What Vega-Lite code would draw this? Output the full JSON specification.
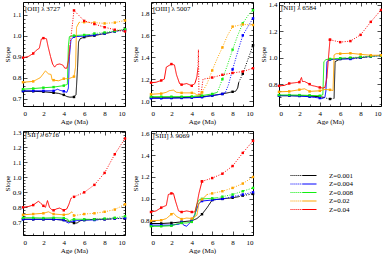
{
"$schema":"https://vega.github.io/schema/vega-lite/v6.json",
"padding":{"left":2,"top":0,"right":0,"bottom":0},
"config":{
 "font":"Liberation Serif",
 "view":{"stroke":"black","strokeWidth":1},
 "title":{"anchor":"start","frame":"group","offset":-10,"dx":2,"fontSize":7,"font":"Liberation Serif","fontWeight":"normal","color":"black"},
 "axis":{"grid":false,"domain":false,"labelFont":"Liberation Serif","labelFontSize":7,"labelColor":"black","titleFont":"Liberation Serif","titleFontSize":7,"titleFontWeight":"normal","titleColor":"black","tickColor":"black","tickWidth":0.7},
 "legend":{"orient":"none","legendX":267,"legendY":170,"title":null,"symbolType":"M-1,0h0.08M-0.85,0h0.08M-0.7,0h0.08M-0.55,0h0.08M-0.4,0h0.08M-0.25,0h0.08M-0.1,0H1","symbolSize":676,"symbolStrokeWidth":1,"labelFont":"Liberation Serif","labelFontSize":7,"labelColor":"black","clipHeight":7,"rowPadding":0.5,"labelOffset":12}
},
"data":{"values":[
{"p":"OII","z":"0.001","g":1,"k":"s","a":0,"v":0.735},{"p":"OII","z":"0.001","g":1,"k":"s","a":1,"v":0.735},{"p":"OII","z":"0.001","g":1,"k":"s","a":2,"v":0.733},{"p":"OII","z":"0.001","g":1,"k":"s","a":3,"v":0.728},{"p":"OII","z":"0.001","g":1,"k":"s","a":3.5,"v":0.725},{"p":"OII","z":"0.001","g":1,"k":"s","a":4,"v":0.718},{"p":"OII","z":"0.001","g":1,"k":"s","a":4.3,"v":0.71},{"p":"OII","z":"0.001","g":1,"k":"s","a":4.6,"v":0.707},{"p":"OII","z":"0.001","g":1,"k":"s","a":5,"v":0.708},{"p":"OII","z":"0.001","g":1,"k":"s","a":5.2,"v":0.72},{"p":"OII","z":"0.001","g":1,"k":"s","a":5.35,"v":0.85},{"p":"OII","z":"0.001","g":1,"k":"s","a":5.45,"v":0.97},{"p":"OII","z":"0.001","g":1,"k":"s","a":5.6,"v":0.985},{"p":"OII","z":"0.001","g":1,"k":"s","a":6,"v":0.993},{"p":"OII","z":"0.001","g":1,"k":"s","a":7,"v":1.0},{"p":"OII","z":"0.001","g":1,"k":"s","a":8,"v":1.01},{"p":"OII","z":"0.001","g":1,"k":"s","a":8.6,"v":1.015},
{"p":"OII","z":"0.001","g":2,"k":"d","a":8.6,"v":1.015},{"p":"OII","z":"0.001","g":2,"k":"d","a":9,"v":1.02},{"p":"OII","z":"0.001","g":2,"k":"d","a":10,"v":1.03},
{"p":"OII","z":"0.004","g":1,"k":"s","a":0,"v":0.737},{"p":"OII","z":"0.004","g":1,"k":"s","a":1,"v":0.737},{"p":"OII","z":"0.004","g":1,"k":"s","a":2,"v":0.737},{"p":"OII","z":"0.004","g":1,"k":"s","a":3,"v":0.737},{"p":"OII","z":"0.004","g":1,"k":"s","a":3.4,"v":0.745},{"p":"OII","z":"0.004","g":1,"k":"s","a":3.6,"v":0.74},{"p":"OII","z":"0.004","g":1,"k":"s","a":4,"v":0.735},{"p":"OII","z":"0.004","g":1,"k":"s","a":4.3,"v":0.73},{"p":"OII","z":"0.004","g":1,"k":"s","a":4.45,"v":0.75},{"p":"OII","z":"0.004","g":1,"k":"s","a":4.55,"v":0.9},{"p":"OII","z":"0.004","g":1,"k":"s","a":4.7,"v":0.98},{"p":"OII","z":"0.004","g":1,"k":"s","a":5,"v":0.995},{"p":"OII","z":"0.004","g":1,"k":"s","a":6,"v":0.998},{"p":"OII","z":"0.004","g":1,"k":"s","a":7,"v":1.003},{"p":"OII","z":"0.004","g":1,"k":"s","a":7.3,"v":1.006},
{"p":"OII","z":"0.004","g":2,"k":"d","a":7.3,"v":1.006},{"p":"OII","z":"0.004","g":2,"k":"d","a":8,"v":1.01},{"p":"OII","z":"0.004","g":2,"k":"d","a":9,"v":1.02},{"p":"OII","z":"0.004","g":2,"k":"d","a":10,"v":1.025},
{"p":"OII","z":"0.008","g":1,"k":"s","a":0,"v":0.745},{"p":"OII","z":"0.008","g":1,"k":"s","a":1,"v":0.748},{"p":"OII","z":"0.008","g":1,"k":"s","a":2,"v":0.752},{"p":"OII","z":"0.008","g":1,"k":"s","a":3,"v":0.755},{"p":"OII","z":"0.008","g":1,"k":"s","a":4,"v":0.762},{"p":"OII","z":"0.008","g":1,"k":"s","a":4.35,"v":0.768},{"p":"OII","z":"0.008","g":1,"k":"s","a":4.45,"v":0.95},{"p":"OII","z":"0.008","g":1,"k":"s","a":4.55,"v":0.995},{"p":"OII","z":"0.008","g":1,"k":"s","a":5,"v":1.0},{"p":"OII","z":"0.008","g":1,"k":"s","a":6,"v":1.003},{"p":"OII","z":"0.008","g":1,"k":"s","a":6.5,"v":1.005},
{"p":"OII","z":"0.008","g":2,"k":"d","a":6.5,"v":1.005},{"p":"OII","z":"0.008","g":2,"k":"d","a":7,"v":1.01},{"p":"OII","z":"0.008","g":2,"k":"d","a":8,"v":1.015},{"p":"OII","z":"0.008","g":2,"k":"d","a":9,"v":1.022},{"p":"OII","z":"0.008","g":2,"k":"d","a":10,"v":1.03},
{"p":"OII","z":"0.02","g":1,"k":"s","a":0,"v":0.778},{"p":"OII","z":"0.02","g":1,"k":"s","a":1,"v":0.782},{"p":"OII","z":"0.02","g":1,"k":"s","a":1.7,"v":0.8},{"p":"OII","z":"0.02","g":1,"k":"s","a":2.2,"v":0.832},{"p":"OII","z":"0.02","g":1,"k":"s","a":2.5,"v":0.818},{"p":"OII","z":"0.02","g":1,"k":"s","a":2.75,"v":0.815},{"p":"OII","z":"0.02","g":1,"k":"s","a":2.85,"v":0.79},{"p":"OII","z":"0.02","g":1,"k":"s","a":3,"v":0.788},{"p":"OII","z":"0.02","g":1,"k":"s","a":3.5,"v":0.785},{"p":"OII","z":"0.02","g":1,"k":"s","a":4,"v":0.795},{"p":"OII","z":"0.02","g":1,"k":"s","a":4.5,"v":0.795},{"p":"OII","z":"0.02","g":1,"k":"s","a":5,"v":0.805},{"p":"OII","z":"0.02","g":1,"k":"s","a":5.15,"v":0.85},{"p":"OII","z":"0.02","g":1,"k":"s","a":5.25,"v":1.04},{"p":"OII","z":"0.02","g":1,"k":"s","a":5.5,"v":1.063},
{"p":"OII","z":"0.02","g":2,"k":"d","a":5.5,"v":1.063},{"p":"OII","z":"0.02","g":2,"k":"d","a":6,"v":1.064},{"p":"OII","z":"0.02","g":2,"k":"d","a":7,"v":1.062},{"p":"OII","z":"0.02","g":2,"k":"d","a":8,"v":1.058},{"p":"OII","z":"0.02","g":2,"k":"d","a":9,"v":1.062},{"p":"OII","z":"0.02","g":2,"k":"d","a":10,"v":1.072},
{"p":"OII","z":"0.04","g":1,"k":"s","a":0,"v":0.895},{"p":"OII","z":"0.04","g":1,"k":"s","a":0.5,"v":0.9},{"p":"OII","z":"0.04","g":1,"k":"s","a":1,"v":0.915},{"p":"OII","z":"0.04","g":1,"k":"s","a":1.3,"v":0.93},{"p":"OII","z":"0.04","g":1,"k":"s","a":1.6,"v":0.94},{"p":"OII","z":"0.04","g":1,"k":"s","a":1.8,"v":0.984},{"p":"OII","z":"0.04","g":1,"k":"s","a":2,"v":0.988},{"p":"OII","z":"0.04","g":1,"k":"s","a":2.3,"v":0.985},{"p":"OII","z":"0.04","g":1,"k":"s","a":2.45,"v":0.95},{"p":"OII","z":"0.04","g":1,"k":"s","a":2.7,"v":0.9},{"p":"OII","z":"0.04","g":1,"k":"s","a":2.9,"v":0.865},{"p":"OII","z":"0.04","g":1,"k":"s","a":3.1,"v":0.85},{"p":"OII","z":"0.04","g":1,"k":"s","a":3.3,"v":0.862},{"p":"OII","z":"0.04","g":1,"k":"s","a":3.6,"v":0.865},{"p":"OII","z":"0.04","g":1,"k":"s","a":3.9,"v":0.86},{"p":"OII","z":"0.04","g":1,"k":"s","a":4.1,"v":0.845},{"p":"OII","z":"0.04","g":1,"k":"s","a":4.3,"v":0.845},{"p":"OII","z":"0.04","g":1,"k":"s","a":4.45,"v":0.88},{"p":"OII","z":"0.04","g":1,"k":"s","a":4.6,"v":0.95},
{"p":"OII","z":"0.04","g":2,"k":"d","a":4.6,"v":0.95},{"p":"OII","z":"0.04","g":2,"k":"d","a":5,"v":1.12},{"p":"OII","z":"0.04","g":2,"k":"d","a":6,"v":1.07},{"p":"OII","z":"0.04","g":2,"k":"d","a":7,"v":1.055},{"p":"OII","z":"0.04","g":2,"k":"d","a":8,"v":1.04},{"p":"OII","z":"0.04","g":2,"k":"d","a":9,"v":1.028},{"p":"OII","z":"0.04","g":2,"k":"d","a":10,"v":1.02},

{"p":"OIII","z":"0.001","g":1,"k":"s","a":0,"v":1.03},{"p":"OIII","z":"0.001","g":1,"k":"s","a":1,"v":1.03},{"p":"OIII","z":"0.001","g":1,"k":"s","a":2,"v":1.03},{"p":"OIII","z":"0.001","g":1,"k":"s","a":3,"v":1.032},{"p":"OIII","z":"0.001","g":1,"k":"s","a":4,"v":1.035},{"p":"OIII","z":"0.001","g":1,"k":"s","a":5,"v":1.04},{"p":"OIII","z":"0.001","g":1,"k":"s","a":6,"v":1.05},{"p":"OIII","z":"0.001","g":1,"k":"s","a":7,"v":1.065},{"p":"OIII","z":"0.001","g":1,"k":"s","a":8,"v":1.085},{"p":"OIII","z":"0.001","g":1,"k":"s","a":8.3,"v":1.09},{"p":"OIII","z":"0.001","g":1,"k":"s","a":8.5,"v":1.12},{"p":"OIII","z":"0.001","g":1,"k":"s","a":8.6,"v":1.17},
{"p":"OIII","z":"0.001","g":2,"k":"d","a":8.6,"v":1.17},{"p":"OIII","z":"0.001","g":2,"k":"d","a":9,"v":1.25},{"p":"OIII","z":"0.001","g":2,"k":"d","a":9.5,"v":1.38},{"p":"OIII","z":"0.001","g":2,"k":"d","a":10,"v":1.51},
{"p":"OIII","z":"0.004","g":1,"k":"s","a":0,"v":1.025},{"p":"OIII","z":"0.004","g":1,"k":"s","a":1,"v":1.025},{"p":"OIII","z":"0.004","g":1,"k":"s","a":2,"v":1.027},{"p":"OIII","z":"0.004","g":1,"k":"s","a":3,"v":1.028},{"p":"OIII","z":"0.004","g":1,"k":"s","a":4,"v":1.03},{"p":"OIII","z":"0.004","g":1,"k":"s","a":5,"v":1.035},{"p":"OIII","z":"0.004","g":1,"k":"s","a":6,"v":1.05},{"p":"OIII","z":"0.004","g":1,"k":"s","a":7,"v":1.065},{"p":"OIII","z":"0.004","g":1,"k":"s","a":7.3,"v":1.08},
{"p":"OIII","z":"0.004","g":2,"k":"d","a":7.3,"v":1.08},{"p":"OIII","z":"0.004","g":2,"k":"d","a":7.6,"v":1.15},{"p":"OIII","z":"0.004","g":2,"k":"d","a":8,"v":1.29},{"p":"OIII","z":"0.004","g":2,"k":"d","a":8.5,"v":1.45},{"p":"OIII","z":"0.004","g":2,"k":"d","a":9,"v":1.6},{"p":"OIII","z":"0.004","g":2,"k":"d","a":9.5,"v":1.68},{"p":"OIII","z":"0.004","g":2,"k":"d","a":10,"v":1.755},
{"p":"OIII","z":"0.008","g":1,"k":"s","a":0,"v":1.04},{"p":"OIII","z":"0.008","g":1,"k":"s","a":1,"v":1.04},{"p":"OIII","z":"0.008","g":1,"k":"s","a":2,"v":1.04},{"p":"OIII","z":"0.008","g":1,"k":"s","a":3,"v":1.04},{"p":"OIII","z":"0.008","g":1,"k":"s","a":4,"v":1.042},{"p":"OIII","z":"0.008","g":1,"k":"s","a":5,"v":1.05},{"p":"OIII","z":"0.008","g":1,"k":"s","a":6,"v":1.065},{"p":"OIII","z":"0.008","g":1,"k":"s","a":6.5,"v":1.08},
{"p":"OIII","z":"0.008","g":2,"k":"d","a":6.5,"v":1.08},{"p":"OIII","z":"0.008","g":2,"k":"d","a":7,"v":1.2},{"p":"OIII","z":"0.008","g":2,"k":"d","a":7.5,"v":1.33},{"p":"OIII","z":"0.008","g":2,"k":"d","a":8,"v":1.47},{"p":"OIII","z":"0.008","g":2,"k":"d","a":8.5,"v":1.6},{"p":"OIII","z":"0.008","g":2,"k":"d","a":9,"v":1.71},{"p":"OIII","z":"0.008","g":2,"k":"d","a":9.5,"v":1.78},{"p":"OIII","z":"0.008","g":2,"k":"d","a":10,"v":1.83},
{"p":"OIII","z":"0.02","g":1,"k":"s","a":0,"v":1.062},{"p":"OIII","z":"0.02","g":1,"k":"s","a":1,"v":1.068},{"p":"OIII","z":"0.02","g":1,"k":"s","a":1.5,"v":1.08},{"p":"OIII","z":"0.02","g":1,"k":"s","a":1.8,"v":1.095},{"p":"OIII","z":"0.02","g":1,"k":"s","a":2.2,"v":1.1},{"p":"OIII","z":"0.02","g":1,"k":"s","a":2.5,"v":1.08},{"p":"OIII","z":"0.02","g":1,"k":"s","a":3,"v":1.075},{"p":"OIII","z":"0.02","g":1,"k":"s","a":4,"v":1.075},{"p":"OIII","z":"0.02","g":1,"k":"s","a":4.3,"v":1.07},{"p":"OIII","z":"0.02","g":1,"k":"s","a":4.5,"v":1.055},{"p":"OIII","z":"0.02","g":1,"k":"s","a":4.8,"v":1.06},{"p":"OIII","z":"0.02","g":1,"k":"s","a":5,"v":1.08},
{"p":"OIII","z":"0.02","g":2,"k":"d","a":5,"v":1.08},{"p":"OIII","z":"0.02","g":2,"k":"d","a":5.5,"v":1.16},{"p":"OIII","z":"0.02","g":2,"k":"d","a":6,"v":1.28},{"p":"OIII","z":"0.02","g":2,"k":"d","a":6.5,"v":1.39},{"p":"OIII","z":"0.02","g":2,"k":"d","a":7,"v":1.49},{"p":"OIII","z":"0.02","g":2,"k":"d","a":7.5,"v":1.6},{"p":"OIII","z":"0.02","g":2,"k":"d","a":8,"v":1.68},{"p":"OIII","z":"0.02","g":2,"k":"d","a":9,"v":1.7},{"p":"OIII","z":"0.02","g":2,"k":"d","a":10,"v":1.695},
{"p":"OIII","z":"0.04","g":1,"k":"s","a":0,"v":1.168},{"p":"OIII","z":"0.04","g":1,"k":"s","a":0.5,"v":1.172},{"p":"OIII","z":"0.04","g":1,"k":"s","a":1,"v":1.188},{"p":"OIII","z":"0.04","g":1,"k":"s","a":1.3,"v":1.2},{"p":"OIII","z":"0.04","g":1,"k":"s","a":1.5,"v":1.31},{"p":"OIII","z":"0.04","g":1,"k":"s","a":2,"v":1.338},{"p":"OIII","z":"0.04","g":1,"k":"s","a":2.3,"v":1.33},{"p":"OIII","z":"0.04","g":1,"k":"s","a":2.5,"v":1.24},{"p":"OIII","z":"0.04","g":1,"k":"s","a":2.8,"v":1.16},{"p":"OIII","z":"0.04","g":1,"k":"s","a":3,"v":1.15},{"p":"OIII","z":"0.04","g":1,"k":"s","a":3.5,"v":1.16},{"p":"OIII","z":"0.04","g":1,"k":"s","a":4,"v":1.14},{"p":"OIII","z":"0.04","g":1,"k":"s","a":4.3,"v":1.16},{"p":"OIII","z":"0.04","g":1,"k":"s","a":4.5,"v":1.22},{"p":"OIII","z":"0.04","g":1,"k":"s","a":4.6,"v":1.3},
{"p":"OIII","z":"0.04","g":2,"k":"d","a":4.6,"v":1.3},{"p":"OIII","z":"0.04","g":2,"k":"d","a":4.65,"v":1.47},{"p":"OIII","z":"0.04","g":2,"k":"d","a":4.7,"v":1.06},{"p":"OIII","z":"0.04","g":2,"k":"d","a":4.9,"v":1.06},{"p":"OIII","z":"0.04","g":2,"k":"d","a":5.1,"v":1.2},{"p":"OIII","z":"0.04","g":2,"k":"d","a":6,"v":1.215},{"p":"OIII","z":"0.04","g":2,"k":"d","a":7,"v":1.24},{"p":"OIII","z":"0.04","g":2,"k":"d","a":8,"v":1.257},{"p":"OIII","z":"0.04","g":2,"k":"d","a":9,"v":1.27},{"p":"OIII","z":"0.04","g":2,"k":"d","a":10,"v":1.3},

{"p":"NII","z":"0.001","g":1,"k":"s","a":0,"v":0.713},{"p":"NII","z":"0.001","g":1,"k":"s","a":1,"v":0.713},{"p":"NII","z":"0.001","g":1,"k":"s","a":2,"v":0.712},{"p":"NII","z":"0.001","g":1,"k":"s","a":3,"v":0.71},{"p":"NII","z":"0.001","g":1,"k":"s","a":4,"v":0.705},{"p":"NII","z":"0.001","g":1,"k":"s","a":4.4,"v":0.7},
{"p":"NII","z":"0.001","g":2,"k":"d","a":4.4,"v":0.7},{"p":"NII","z":"0.001","g":2,"k":"d","a":4.8,"v":0.69},{"p":"NII","z":"0.001","g":2,"k":"d","a":5,"v":0.688},{"p":"NII","z":"0.001","g":2,"k":"d","a":5.4,"v":0.692},
{"p":"NII","z":"0.001","g":3,"k":"s","a":5.4,"v":0.692},{"p":"NII","z":"0.001","g":3,"k":"s","a":5.5,"v":0.97},{"p":"NII","z":"0.001","g":3,"k":"s","a":6,"v":0.99},{"p":"NII","z":"0.001","g":3,"k":"s","a":7,"v":0.995},{"p":"NII","z":"0.001","g":3,"k":"s","a":8,"v":1.0},{"p":"NII","z":"0.001","g":3,"k":"s","a":8.6,"v":1.005},
{"p":"NII","z":"0.001","g":4,"k":"d","a":8.6,"v":1.005},{"p":"NII","z":"0.001","g":4,"k":"d","a":9,"v":1.01},{"p":"NII","z":"0.001","g":4,"k":"d","a":10,"v":1.015},
{"p":"NII","z":"0.004","g":1,"k":"s","a":0,"v":0.713},{"p":"NII","z":"0.004","g":1,"k":"s","a":1,"v":0.713},{"p":"NII","z":"0.004","g":1,"k":"s","a":2,"v":0.71},{"p":"NII","z":"0.004","g":1,"k":"s","a":3,"v":0.705},{"p":"NII","z":"0.004","g":1,"k":"s","a":3.5,"v":0.7},{"p":"NII","z":"0.004","g":1,"k":"s","a":4,"v":0.695},{"p":"NII","z":"0.004","g":1,"k":"s","a":4.2,"v":0.69},{"p":"NII","z":"0.004","g":1,"k":"s","a":4.5,"v":0.7},{"p":"NII","z":"0.004","g":1,"k":"s","a":4.6,"v":0.75},{"p":"NII","z":"0.004","g":1,"k":"s","a":4.7,"v":0.97},{"p":"NII","z":"0.004","g":1,"k":"s","a":5,"v":0.985},{"p":"NII","z":"0.004","g":1,"k":"s","a":6,"v":0.99},{"p":"NII","z":"0.004","g":1,"k":"s","a":7,"v":0.99},{"p":"NII","z":"0.004","g":1,"k":"s","a":7.3,"v":0.992},
{"p":"NII","z":"0.004","g":2,"k":"d","a":7.3,"v":0.992},{"p":"NII","z":"0.004","g":2,"k":"d","a":8,"v":1.0},{"p":"NII","z":"0.004","g":2,"k":"d","a":9,"v":1.008},{"p":"NII","z":"0.004","g":2,"k":"d","a":10,"v":1.015},
{"p":"NII","z":"0.008","g":1,"k":"s","a":0,"v":0.718},{"p":"NII","z":"0.008","g":1,"k":"s","a":1,"v":0.718},{"p":"NII","z":"0.008","g":1,"k":"s","a":2,"v":0.717},{"p":"NII","z":"0.008","g":1,"k":"s","a":3,"v":0.715},{"p":"NII","z":"0.008","g":1,"k":"s","a":4,"v":0.712},{"p":"NII","z":"0.008","g":1,"k":"s","a":4.3,"v":0.72},{"p":"NII","z":"0.008","g":1,"k":"s","a":4.4,"v":0.97},{"p":"NII","z":"0.008","g":1,"k":"s","a":4.6,"v":0.985},{"p":"NII","z":"0.008","g":1,"k":"s","a":5,"v":0.99},{"p":"NII","z":"0.008","g":1,"k":"s","a":6,"v":0.995},{"p":"NII","z":"0.008","g":1,"k":"s","a":6.5,"v":0.998},
{"p":"NII","z":"0.008","g":2,"k":"d","a":6.5,"v":0.998},{"p":"NII","z":"0.008","g":2,"k":"d","a":7,"v":1.0},{"p":"NII","z":"0.008","g":2,"k":"d","a":8,"v":1.005},{"p":"NII","z":"0.008","g":2,"k":"d","a":9,"v":1.01},{"p":"NII","z":"0.008","g":2,"k":"d","a":10,"v":1.015},
{"p":"NII","z":"0.02","g":1,"k":"s","a":0,"v":0.742},{"p":"NII","z":"0.02","g":1,"k":"s","a":1,"v":0.745},{"p":"NII","z":"0.02","g":1,"k":"s","a":2,"v":0.758},{"p":"NII","z":"0.02","g":1,"k":"s","a":2.5,"v":0.765},{"p":"NII","z":"0.02","g":1,"k":"s","a":3,"v":0.745},{"p":"NII","z":"0.02","g":1,"k":"s","a":4,"v":0.75},{"p":"NII","z":"0.02","g":1,"k":"s","a":4.5,"v":0.76},{"p":"NII","z":"0.02","g":1,"k":"s","a":5,"v":0.757},{"p":"NII","z":"0.02","g":1,"k":"s","a":5.3,"v":0.752},{"p":"NII","z":"0.02","g":1,"k":"s","a":5.4,"v":1.02},{"p":"NII","z":"0.02","g":1,"k":"s","a":5.6,"v":1.03},{"p":"NII","z":"0.02","g":1,"k":"s","a":6,"v":1.03},{"p":"NII","z":"0.02","g":1,"k":"s","a":7,"v":1.033},{"p":"NII","z":"0.02","g":1,"k":"s","a":8,"v":1.025},{"p":"NII","z":"0.02","g":1,"k":"s","a":9,"v":1.018},{"p":"NII","z":"0.02","g":1,"k":"s","a":10,"v":1.018},
{"p":"NII","z":"0.04","g":1,"k":"s","a":0,"v":0.787},{"p":"NII","z":"0.04","g":1,"k":"s","a":0.5,"v":0.79},{"p":"NII","z":"0.04","g":1,"k":"s","a":1,"v":0.805},{"p":"NII","z":"0.04","g":1,"k":"s","a":1.5,"v":0.81},{"p":"NII","z":"0.04","g":1,"k":"s","a":2,"v":0.815},{"p":"NII","z":"0.04","g":1,"k":"s","a":2.2,"v":0.85},{"p":"NII","z":"0.04","g":1,"k":"s","a":2.3,"v":0.82},{"p":"NII","z":"0.04","g":1,"k":"s","a":2.5,"v":0.82},{"p":"NII","z":"0.04","g":1,"k":"s","a":3,"v":0.8},{"p":"NII","z":"0.04","g":1,"k":"s","a":3.2,"v":0.79},{"p":"NII","z":"0.04","g":1,"k":"s","a":3.5,"v":0.785},{"p":"NII","z":"0.04","g":1,"k":"s","a":4,"v":0.775},{"p":"NII","z":"0.04","g":1,"k":"s","a":4.3,"v":0.77},{"p":"NII","z":"0.04","g":1,"k":"s","a":4.5,"v":0.775},{"p":"NII","z":"0.04","g":1,"k":"s","a":4.7,"v":0.85},{"p":"NII","z":"0.04","g":1,"k":"s","a":4.85,"v":1.0},{"p":"NII","z":"0.04","g":1,"k":"s","a":5,"v":1.135},
{"p":"NII","z":"0.04","g":2,"k":"d","a":5,"v":1.135},{"p":"NII","z":"0.04","g":2,"k":"d","a":6,"v":1.117},{"p":"NII","z":"0.04","g":2,"k":"d","a":7,"v":1.125},{"p":"NII","z":"0.04","g":2,"k":"d","a":8,"v":1.172},{"p":"NII","z":"0.04","g":2,"k":"d","a":9,"v":1.27},{"p":"NII","z":"0.04","g":2,"k":"d","a":10,"v":1.36},

{"p":"SII","z":"0.001","g":1,"k":"s","a":0,"v":0.72},{"p":"SII","z":"0.001","g":1,"k":"s","a":1,"v":0.72},{"p":"SII","z":"0.001","g":1,"k":"s","a":2,"v":0.72},{"p":"SII","z":"0.001","g":1,"k":"s","a":3,"v":0.72},{"p":"SII","z":"0.001","g":1,"k":"s","a":4,"v":0.715},{"p":"SII","z":"0.001","g":1,"k":"s","a":4.5,"v":0.705},{"p":"SII","z":"0.001","g":1,"k":"s","a":5,"v":0.695},{"p":"SII","z":"0.001","g":1,"k":"s","a":5.3,"v":0.695},{"p":"SII","z":"0.001","g":1,"k":"s","a":5.6,"v":0.71},{"p":"SII","z":"0.001","g":1,"k":"s","a":6,"v":0.715},{"p":"SII","z":"0.001","g":1,"k":"s","a":7,"v":0.72},{"p":"SII","z":"0.001","g":1,"k":"s","a":8,"v":0.72},{"p":"SII","z":"0.001","g":1,"k":"s","a":8.6,"v":0.722},
{"p":"SII","z":"0.001","g":2,"k":"d","a":8.6,"v":0.722},{"p":"SII","z":"0.001","g":2,"k":"d","a":9,"v":0.725},{"p":"SII","z":"0.001","g":2,"k":"d","a":10,"v":0.725},
{"p":"SII","z":"0.004","g":1,"k":"s","a":0,"v":0.72},{"p":"SII","z":"0.004","g":1,"k":"s","a":1,"v":0.72},{"p":"SII","z":"0.004","g":1,"k":"s","a":2,"v":0.72},{"p":"SII","z":"0.004","g":1,"k":"s","a":3,"v":0.72},{"p":"SII","z":"0.004","g":1,"k":"s","a":4,"v":0.715},{"p":"SII","z":"0.004","g":1,"k":"s","a":4.3,"v":0.7},{"p":"SII","z":"0.004","g":1,"k":"s","a":4.5,"v":0.695},{"p":"SII","z":"0.004","g":1,"k":"s","a":4.7,"v":0.705},{"p":"SII","z":"0.004","g":1,"k":"s","a":5,"v":0.71},{"p":"SII","z":"0.004","g":1,"k":"s","a":6,"v":0.715},{"p":"SII","z":"0.004","g":1,"k":"s","a":7,"v":0.715},{"p":"SII","z":"0.004","g":1,"k":"s","a":7.3,"v":0.716},
{"p":"SII","z":"0.004","g":2,"k":"d","a":7.3,"v":0.716},{"p":"SII","z":"0.004","g":2,"k":"d","a":8,"v":0.72},{"p":"SII","z":"0.004","g":2,"k":"d","a":9,"v":0.725},{"p":"SII","z":"0.004","g":2,"k":"d","a":10,"v":0.728},
{"p":"SII","z":"0.008","g":1,"k":"s","a":0,"v":0.73},{"p":"SII","z":"0.008","g":1,"k":"s","a":1,"v":0.73},{"p":"SII","z":"0.008","g":1,"k":"s","a":2,"v":0.728},{"p":"SII","z":"0.008","g":1,"k":"s","a":3,"v":0.73},{"p":"SII","z":"0.008","g":1,"k":"s","a":4,"v":0.728},{"p":"SII","z":"0.008","g":1,"k":"s","a":4.4,"v":0.72},{"p":"SII","z":"0.008","g":1,"k":"s","a":4.5,"v":0.705},{"p":"SII","z":"0.008","g":1,"k":"s","a":4.7,"v":0.715},{"p":"SII","z":"0.008","g":1,"k":"s","a":5,"v":0.72},{"p":"SII","z":"0.008","g":1,"k":"s","a":6,"v":0.72},{"p":"SII","z":"0.008","g":1,"k":"s","a":6.5,"v":0.72},
{"p":"SII","z":"0.008","g":2,"k":"d","a":6.5,"v":0.72},{"p":"SII","z":"0.008","g":2,"k":"d","a":7,"v":0.72},{"p":"SII","z":"0.008","g":2,"k":"d","a":8,"v":0.725},{"p":"SII","z":"0.008","g":2,"k":"d","a":9,"v":0.73},{"p":"SII","z":"0.008","g":2,"k":"d","a":10,"v":0.74},
{"p":"SII","z":"0.02","g":1,"k":"s","a":0,"v":0.75},{"p":"SII","z":"0.02","g":1,"k":"s","a":1,"v":0.755},{"p":"SII","z":"0.02","g":1,"k":"s","a":2,"v":0.76},{"p":"SII","z":"0.02","g":1,"k":"s","a":2.5,"v":0.77},{"p":"SII","z":"0.02","g":1,"k":"s","a":2.8,"v":0.76},{"p":"SII","z":"0.02","g":1,"k":"s","a":3,"v":0.755},{"p":"SII","z":"0.02","g":1,"k":"s","a":4,"v":0.75},{"p":"SII","z":"0.02","g":1,"k":"s","a":4.5,"v":0.755},{"p":"SII","z":"0.02","g":1,"k":"s","a":4.8,"v":0.77},
{"p":"SII","z":"0.02","g":2,"k":"d","a":4.8,"v":0.77},{"p":"SII","z":"0.02","g":2,"k":"d","a":5,"v":0.745},{"p":"SII","z":"0.02","g":2,"k":"d","a":6,"v":0.755},{"p":"SII","z":"0.02","g":2,"k":"d","a":7,"v":0.76},{"p":"SII","z":"0.02","g":2,"k":"d","a":8,"v":0.77},{"p":"SII","z":"0.02","g":2,"k":"d","a":9,"v":0.785},{"p":"SII","z":"0.02","g":2,"k":"d","a":10,"v":0.82},
{"p":"SII","z":"0.04","g":1,"k":"s","a":0,"v":0.8},{"p":"SII","z":"0.04","g":1,"k":"s","a":0.5,"v":0.805},{"p":"SII","z":"0.04","g":1,"k":"s","a":1,"v":0.815},{"p":"SII","z":"0.04","g":1,"k":"s","a":1.5,"v":0.84},{"p":"SII","z":"0.04","g":1,"k":"s","a":1.7,"v":0.83},{"p":"SII","z":"0.04","g":1,"k":"s","a":2,"v":0.81},{"p":"SII","z":"0.04","g":1,"k":"s","a":2.2,"v":0.8},{"p":"SII","z":"0.04","g":1,"k":"s","a":2.4,"v":0.845},{"p":"SII","z":"0.04","g":1,"k":"s","a":2.6,"v":0.8},{"p":"SII","z":"0.04","g":1,"k":"s","a":2.8,"v":0.785},{"p":"SII","z":"0.04","g":1,"k":"s","a":3,"v":0.78},{"p":"SII","z":"0.04","g":1,"k":"s","a":3.3,"v":0.79},{"p":"SII","z":"0.04","g":1,"k":"s","a":3.6,"v":0.795},{"p":"SII","z":"0.04","g":1,"k":"s","a":4,"v":0.78},{"p":"SII","z":"0.04","g":1,"k":"s","a":4.3,"v":0.79},{"p":"SII","z":"0.04","g":1,"k":"s","a":4.5,"v":0.82},{"p":"SII","z":"0.04","g":1,"k":"s","a":4.7,"v":0.86},
{"p":"SII","z":"0.04","g":2,"k":"d","a":4.7,"v":0.86},{"p":"SII","z":"0.04","g":2,"k":"d","a":5,"v":0.87},{"p":"SII","z":"0.04","g":2,"k":"d","a":6,"v":0.9},{"p":"SII","z":"0.04","g":2,"k":"d","a":7,"v":0.95},{"p":"SII","z":"0.04","g":2,"k":"d","a":8,"v":1.03},{"p":"SII","z":"0.04","g":2,"k":"d","a":9,"v":1.155},{"p":"SII","z":"0.04","g":2,"k":"d","a":10,"v":1.26},

{"p":"SIII","z":"0.001","g":1,"k":"s","a":0,"v":0.775},{"p":"SIII","z":"0.001","g":1,"k":"s","a":1,"v":0.775},{"p":"SIII","z":"0.001","g":1,"k":"s","a":2,"v":0.78},{"p":"SIII","z":"0.001","g":1,"k":"s","a":3,"v":0.79},{"p":"SIII","z":"0.001","g":1,"k":"s","a":4,"v":0.8},{"p":"SIII","z":"0.001","g":1,"k":"s","a":4.5,"v":0.82},{"p":"SIII","z":"0.001","g":1,"k":"s","a":5,"v":0.86},{"p":"SIII","z":"0.001","g":1,"k":"s","a":5.5,"v":0.92},{"p":"SIII","z":"0.001","g":1,"k":"s","a":6,"v":0.99},{"p":"SIII","z":"0.001","g":1,"k":"s","a":7,"v":1.0},{"p":"SIII","z":"0.001","g":1,"k":"s","a":8,"v":1.01},{"p":"SIII","z":"0.001","g":1,"k":"s","a":8.6,"v":1.02},
{"p":"SIII","z":"0.001","g":2,"k":"d","a":8.6,"v":1.02},{"p":"SIII","z":"0.001","g":2,"k":"d","a":9,"v":1.03},{"p":"SIII","z":"0.001","g":2,"k":"d","a":10,"v":1.045},
{"p":"SIII","z":"0.004","g":1,"k":"s","a":0,"v":0.76},{"p":"SIII","z":"0.004","g":1,"k":"s","a":1,"v":0.76},{"p":"SIII","z":"0.004","g":1,"k":"s","a":2,"v":0.76},{"p":"SIII","z":"0.004","g":1,"k":"s","a":2.8,"v":0.77},{"p":"SIII","z":"0.004","g":1,"k":"s","a":3,"v":0.79},{"p":"SIII","z":"0.004","g":1,"k":"s","a":3.2,"v":0.76},{"p":"SIII","z":"0.004","g":1,"k":"s","a":3.5,"v":0.75},{"p":"SIII","z":"0.004","g":1,"k":"s","a":3.7,"v":0.77},{"p":"SIII","z":"0.004","g":1,"k":"s","a":4,"v":0.8},{"p":"SIII","z":"0.004","g":1,"k":"s","a":4.3,"v":0.86},{"p":"SIII","z":"0.004","g":1,"k":"s","a":4.7,"v":0.96},{"p":"SIII","z":"0.004","g":1,"k":"s","a":5,"v":0.98},{"p":"SIII","z":"0.004","g":1,"k":"s","a":6,"v":0.99},{"p":"SIII","z":"0.004","g":1,"k":"s","a":7,"v":1.0},{"p":"SIII","z":"0.004","g":1,"k":"s","a":7.3,"v":1.005},
{"p":"SIII","z":"0.004","g":2,"k":"d","a":7.3,"v":1.005},{"p":"SIII","z":"0.004","g":2,"k":"d","a":8,"v":1.02},{"p":"SIII","z":"0.004","g":2,"k":"d","a":9,"v":1.04},{"p":"SIII","z":"0.004","g":2,"k":"d","a":10,"v":1.06},
{"p":"SIII","z":"0.008","g":1,"k":"s","a":0,"v":0.75},{"p":"SIII","z":"0.008","g":1,"k":"s","a":1,"v":0.75},{"p":"SIII","z":"0.008","g":1,"k":"s","a":2,"v":0.755},{"p":"SIII","z":"0.008","g":1,"k":"s","a":2.5,"v":0.77},{"p":"SIII","z":"0.008","g":1,"k":"s","a":3,"v":0.78},{"p":"SIII","z":"0.008","g":1,"k":"s","a":3.5,"v":0.78},{"p":"SIII","z":"0.008","g":1,"k":"s","a":4,"v":0.79},{"p":"SIII","z":"0.008","g":1,"k":"s","a":4.3,"v":0.85},{"p":"SIII","z":"0.008","g":1,"k":"s","a":4.5,"v":0.95},{"p":"SIII","z":"0.008","g":1,"k":"s","a":4.7,"v":0.99},{"p":"SIII","z":"0.008","g":1,"k":"s","a":5,"v":1.0},{"p":"SIII","z":"0.008","g":1,"k":"s","a":6,"v":1.005},{"p":"SIII","z":"0.008","g":1,"k":"s","a":6.5,"v":1.01},
{"p":"SIII","z":"0.008","g":2,"k":"d","a":6.5,"v":1.01},{"p":"SIII","z":"0.008","g":2,"k":"d","a":7,"v":1.02},{"p":"SIII","z":"0.008","g":2,"k":"d","a":8,"v":1.04},{"p":"SIII","z":"0.008","g":2,"k":"d","a":9,"v":1.07},{"p":"SIII","z":"0.008","g":2,"k":"d","a":10,"v":1.1},
{"p":"SIII","z":"0.02","g":1,"k":"s","a":0,"v":0.8},{"p":"SIII","z":"0.02","g":1,"k":"s","a":1,"v":0.805},{"p":"SIII","z":"0.02","g":1,"k":"s","a":1.5,"v":0.82},{"p":"SIII","z":"0.02","g":1,"k":"s","a":2,"v":0.86},{"p":"SIII","z":"0.02","g":1,"k":"s","a":2.2,"v":0.87},{"p":"SIII","z":"0.02","g":1,"k":"s","a":2.5,"v":0.84},{"p":"SIII","z":"0.02","g":1,"k":"s","a":3,"v":0.815},{"p":"SIII","z":"0.02","g":1,"k":"s","a":3.5,"v":0.825},{"p":"SIII","z":"0.02","g":1,"k":"s","a":4,"v":0.82},{"p":"SIII","z":"0.02","g":1,"k":"s","a":4.5,"v":0.85},{"p":"SIII","z":"0.02","g":1,"k":"s","a":4.7,"v":0.96},{"p":"SIII","z":"0.02","g":1,"k":"s","a":5,"v":0.995},{"p":"SIII","z":"0.02","g":1,"k":"s","a":5.5,"v":1.04},
{"p":"SIII","z":"0.02","g":2,"k":"d","a":5.5,"v":1.04},{"p":"SIII","z":"0.02","g":2,"k":"d","a":6,"v":1.05},{"p":"SIII","z":"0.02","g":2,"k":"d","a":7,"v":1.07},{"p":"SIII","z":"0.02","g":2,"k":"d","a":8,"v":1.1},{"p":"SIII","z":"0.02","g":2,"k":"d","a":9,"v":1.14},{"p":"SIII","z":"0.02","g":2,"k":"d","a":10,"v":1.2},
{"p":"SIII","z":"0.04","g":1,"k":"s","a":0,"v":0.88},{"p":"SIII","z":"0.04","g":1,"k":"s","a":0.5,"v":0.89},{"p":"SIII","z":"0.04","g":1,"k":"s","a":1,"v":0.92},{"p":"SIII","z":"0.04","g":1,"k":"s","a":1.5,"v":0.94},{"p":"SIII","z":"0.04","g":1,"k":"s","a":1.7,"v":1.04},{"p":"SIII","z":"0.04","g":1,"k":"s","a":2,"v":1.05},{"p":"SIII","z":"0.04","g":1,"k":"s","a":2.2,"v":1.05},{"p":"SIII","z":"0.04","g":1,"k":"s","a":2.4,"v":0.98},{"p":"SIII","z":"0.04","g":1,"k":"s","a":2.7,"v":0.89},{"p":"SIII","z":"0.04","g":1,"k":"s","a":3,"v":0.88},{"p":"SIII","z":"0.04","g":1,"k":"s","a":3.5,"v":0.89},{"p":"SIII","z":"0.04","g":1,"k":"s","a":4,"v":0.88},{"p":"SIII","z":"0.04","g":1,"k":"s","a":4.3,"v":0.88},{"p":"SIII","z":"0.04","g":1,"k":"s","a":4.5,"v":0.95},{"p":"SIII","z":"0.04","g":1,"k":"s","a":4.7,"v":1.05},{"p":"SIII","z":"0.04","g":1,"k":"s","a":5,"v":1.16},
{"p":"SIII","z":"0.04","g":2,"k":"d","a":5,"v":1.16},{"p":"SIII","z":"0.04","g":2,"k":"d","a":6,"v":1.19},{"p":"SIII","z":"0.04","g":2,"k":"d","a":7,"v":1.23},{"p":"SIII","z":"0.04","g":2,"k":"d","a":8,"v":1.3},{"p":"SIII","z":"0.04","g":2,"k":"d","a":9,"v":1.42},{"p":"SIII","z":"0.04","g":2,"k":"d","a":10,"v":1.53}
]},
"spacing":2,
"vconcat":[
{"spacing":3,"hconcat":[
 {"width":102,"height":104,
  "title":{"text":"[OII] λ 3727"},
  "transform":[{"filter":"datum.p == 'OII'"}],
  "layer":[
   {"mark":{"type":"line","strokeWidth":1,"clip":true},
    "encoding":{
     "x":{"field":"a","type":"quantitative","scale":{"domain":[0,10],"nice":false},"axis":{"orient":"bottom","title":"Age (Ma)","values":[0,0.5,1,1.5,2,2.5,3,3.5,4,4.5,5,5.5,6,6.5,7,7.5,8,8.5,9,9.5,10],"labelExpr":"datum.value % 2 == 0 ? datum.label : ''","format":"d","tickSize":{"condition":{"test":"datum.value % 2 == 0","value":-4},"value":-2},"labelPadding":7,"titlePadding":1}},
     "y":{"field":"v","type":"quantitative","scale":{"domain":[0.665,1.16],"nice":false,"zero":false},"axis":{"orient":"left","title":"Slope","values":[0.68,0.7,0.72,0.74,0.76,0.78,0.8,0.82,0.84,0.86,0.88,0.9,0.92,0.94,0.96,0.98,1,1.02,1.04,1.06,1.08,1.1,1.12,1.14],"labelExpr":"abs(datum.value*10 - round(datum.value*10)) < 0.001 ? format(datum.value, '.1f') : ''","tickSize":{"condition":{"test":"abs(datum.value*10 - round(datum.value*10)) < 0.001","value":-4},"value":-2},"labelPadding":6,"titlePadding":2}},
     "color":{"field":"z","type":"nominal","scale":{"domain":["0.001","0.004","0.008","0.02","0.04"],"range":["#000000","#0000ff","#11ee11","#ffa500","#ff0000"]},"legend":{"labelExpr":"'Z=' + datum.label"}},
     "strokeDash":{"field":"k","type":"nominal","scale":{"domain":["s","d"],"range":[[1,0],[1,1.5]]},"legend":null},
     "detail":{"field":"g"}}},
   {"transform":[{"filter":"datum.a == floor(datum.a)"}],
    "mark":{"type":"point","shape":"square","filled":true,"size":6,"opacity":1},
    "encoding":{
     "x":{"field":"a","type":"quantitative","axis":{"orient":"top","title":null,"labels":false,"values":[0,0.5,1,1.5,2,2.5,3,3.5,4,4.5,5,5.5,6,6.5,7,7.5,8,8.5,9,9.5,10],"tickSize":{"condition":{"test":"datum.value % 2 == 0","value":-4},"value":-2}}},
     "y":{"field":"v","type":"quantitative","axis":{"orient":"right","title":null,"labels":false,"values":[0.68,0.7,0.72,0.74,0.76,0.78,0.8,0.82,0.84,0.86,0.88,0.9,0.92,0.94,0.96,0.98,1,1.02,1.04,1.06,1.08,1.1,1.12,1.14],"tickSize":{"condition":{"test":"abs(datum.value*10 - round(datum.value*10)) < 0.001","value":-4},"value":-2}}},
     "fill":{"field":"z","type":"nominal","scale":{"domain":["0.001","0.004","0.008","0.02","0.04"],"range":["#000000","#0000ff","#11ee11","#ffa500","#ff0000"]},"legend":null}}}
  ],
  "resolve":{"axis":{"x":"independent","y":"independent"}}},
 {"width":102,"height":104,
  "title":{"text":"[OIII] λ 5007"},
  "transform":[{"filter":"datum.p == 'OIII'"}],
  "layer":[
   {"mark":{"type":"line","strokeWidth":1,"clip":true},
    "encoding":{
     "x":{"field":"a","type":"quantitative","scale":{"domain":[0,10],"nice":false},"axis":{"orient":"bottom","title":"Age (Ma)","values":[0,0.5,1,1.5,2,2.5,3,3.5,4,4.5,5,5.5,6,6.5,7,7.5,8,8.5,9,9.5,10],"labelExpr":"datum.value % 2 == 0 ? datum.label : ''","format":"d","tickSize":{"condition":{"test":"datum.value % 2 == 0","value":-4},"value":-2},"labelPadding":7,"titlePadding":1}},
     "y":{"field":"v","type":"quantitative","scale":{"domain":[0.955,1.905],"nice":false,"zero":false},"axis":{"orient":"left","title":"Slope","values":[1,1.05,1.1,1.15,1.2,1.25,1.3,1.35,1.4,1.45,1.5,1.55,1.6,1.65,1.7,1.75,1.8,1.85,1.9],"labelExpr":"abs(datum.value*5 - round(datum.value*5)) < 0.001 ? format(datum.value, '.1f') : ''","tickSize":{"condition":{"test":"abs(datum.value*5 - round(datum.value*5)) < 0.001","value":-4},"value":-2},"labelPadding":6,"titlePadding":2}},
     "color":{"field":"z","type":"nominal","scale":{"domain":["0.001","0.004","0.008","0.02","0.04"],"range":["#000000","#0000ff","#11ee11","#ffa500","#ff0000"]},"legend":{"labelExpr":"'Z=' + datum.label"}},
     "strokeDash":{"field":"k","type":"nominal","scale":{"domain":["s","d"],"range":[[1,0],[1,1.5]]},"legend":null},
     "detail":{"field":"g"}}},
   {"transform":[{"filter":"datum.a == floor(datum.a)"}],
    "mark":{"type":"point","shape":"square","filled":true,"size":6,"opacity":1},
    "encoding":{
     "x":{"field":"a","type":"quantitative","axis":{"orient":"top","title":null,"labels":false,"values":[0,0.5,1,1.5,2,2.5,3,3.5,4,4.5,5,5.5,6,6.5,7,7.5,8,8.5,9,9.5,10],"tickSize":{"condition":{"test":"datum.value % 2 == 0","value":-4},"value":-2}}},
     "y":{"field":"v","type":"quantitative","axis":{"orient":"right","title":null,"labels":false,"values":[1,1.05,1.1,1.15,1.2,1.25,1.3,1.35,1.4,1.45,1.5,1.55,1.6,1.65,1.7,1.75,1.8,1.85,1.9],"tickSize":{"condition":{"test":"abs(datum.value*5 - round(datum.value*5)) < 0.001","value":-4},"value":-2}}},
     "fill":{"field":"z","type":"nominal","scale":{"domain":["0.001","0.004","0.008","0.02","0.04"],"range":["#000000","#0000ff","#11ee11","#ffa500","#ff0000"]},"legend":null}}}
  ],
  "resolve":{"axis":{"x":"independent","y":"independent"}}},
 {"width":102,"height":104,
  "title":{"text":"[NII] λ 6584"},
  "transform":[{"filter":"datum.p == 'NII'"}],
  "layer":[
   {"mark":{"type":"line","strokeWidth":1,"clip":true},
    "encoding":{
     "x":{"field":"a","type":"quantitative","scale":{"domain":[0,10],"nice":false},"axis":{"orient":"bottom","title":"Age (Ma)","values":[0,0.5,1,1.5,2,2.5,3,3.5,4,4.5,5,5.5,6,6.5,7,7.5,8,8.5,9,9.5,10],"labelExpr":"datum.value % 2 == 0 ? datum.label : ''","format":"d","tickSize":{"condition":{"test":"datum.value % 2 == 0","value":-4},"value":-2},"labelPadding":7,"titlePadding":1}},
     "y":{"field":"v","type":"quantitative","scale":{"domain":[0.635,1.42],"nice":false,"zero":false},"axis":{"orient":"left","title":"Slope","values":[0.65,0.7,0.75,0.8,0.85,0.9,0.95,1,1.05,1.1,1.15,1.2,1.25,1.3,1.35,1.4],"labelExpr":"abs(datum.value*5 - round(datum.value*5)) < 0.001 ? format(datum.value, '.1f') : ''","tickSize":{"condition":{"test":"abs(datum.value*5 - round(datum.value*5)) < 0.001","value":-4},"value":-2},"labelPadding":6,"titlePadding":2}},
     "color":{"field":"z","type":"nominal","scale":{"domain":["0.001","0.004","0.008","0.02","0.04"],"range":["#000000","#0000ff","#11ee11","#ffa500","#ff0000"]},"legend":{"labelExpr":"'Z=' + datum.label"}},
     "strokeDash":{"field":"k","type":"nominal","scale":{"domain":["s","d"],"range":[[1,0],[1,1.5]]},"legend":null},
     "detail":{"field":"g"}}},
   {"transform":[{"filter":"datum.a == floor(datum.a)"}],
    "mark":{"type":"point","shape":"square","filled":true,"size":6,"opacity":1},
    "encoding":{
     "x":{"field":"a","type":"quantitative","axis":{"orient":"top","title":null,"labels":false,"values":[0,0.5,1,1.5,2,2.5,3,3.5,4,4.5,5,5.5,6,6.5,7,7.5,8,8.5,9,9.5,10],"tickSize":{"condition":{"test":"datum.value % 2 == 0","value":-4},"value":-2}}},
     "y":{"field":"v","type":"quantitative","axis":{"orient":"right","title":null,"labels":false,"values":[0.65,0.7,0.75,0.8,0.85,0.9,0.95,1,1.05,1.1,1.15,1.2,1.25,1.3,1.35,1.4],"tickSize":{"condition":{"test":"abs(datum.value*5 - round(datum.value*5)) < 0.001","value":-4},"value":-2}}},
     "fill":{"field":"z","type":"nominal","scale":{"domain":["0.001","0.004","0.008","0.02","0.04"],"range":["#000000","#0000ff","#11ee11","#ffa500","#ff0000"]},"legend":null}}}
  ],
  "resolve":{"axis":{"x":"independent","y":"independent"}}}
]},
{"spacing":3,"hconcat":[
 {"width":102,"height":104,
  "title":{"text":"[SII] λ 6716"},
  "transform":[{"filter":"datum.p == 'SII'"}],
  "layer":[
   {"mark":{"type":"line","strokeWidth":1,"clip":true},
    "encoding":{
     "x":{"field":"a","type":"quantitative","scale":{"domain":[0,10],"nice":false},"axis":{"orient":"bottom","title":"Age (Ma)","values":[0,0.5,1,1.5,2,2.5,3,3.5,4,4.5,5,5.5,6,6.5,7,7.5,8,8.5,9,9.5,10],"labelExpr":"datum.value % 2 == 0 ? datum.label : ''","format":"d","tickSize":{"condition":{"test":"datum.value % 2 == 0","value":-4},"value":-2},"labelPadding":7,"titlePadding":1}},
     "y":{"field":"v","type":"quantitative","scale":{"domain":[0.615,1.31],"nice":false,"zero":false},"axis":{"orient":"left","title":"Slope","values":[0.62,0.64,0.66,0.68,0.7,0.72,0.74,0.76,0.78,0.8,0.82,0.84,0.86,0.88,0.9,0.92,0.94,0.96,0.98,1,1.02,1.04,1.06,1.08,1.1,1.12,1.14,1.16,1.18,1.2,1.22,1.24,1.26,1.28,1.3],"labelExpr":"abs(datum.value*10 - round(datum.value*10)) < 0.001 ? format(datum.value, '.1f') : ''","tickSize":{"condition":{"test":"abs(datum.value*10 - round(datum.value*10)) < 0.001","value":-4},"value":-2},"labelPadding":6,"titlePadding":2}},
     "color":{"field":"z","type":"nominal","scale":{"domain":["0.001","0.004","0.008","0.02","0.04"],"range":["#000000","#0000ff","#11ee11","#ffa500","#ff0000"]},"legend":{"labelExpr":"'Z=' + datum.label"}},
     "strokeDash":{"field":"k","type":"nominal","scale":{"domain":["s","d"],"range":[[1,0],[1,1.5]]},"legend":null},
     "detail":{"field":"g"}}},
   {"transform":[{"filter":"datum.a == floor(datum.a)"}],
    "mark":{"type":"point","shape":"square","filled":true,"size":6,"opacity":1},
    "encoding":{
     "x":{"field":"a","type":"quantitative","axis":{"orient":"top","title":null,"labels":false,"values":[0,0.5,1,1.5,2,2.5,3,3.5,4,4.5,5,5.5,6,6.5,7,7.5,8,8.5,9,9.5,10],"tickSize":{"condition":{"test":"datum.value % 2 == 0","value":-4},"value":-2}}},
     "y":{"field":"v","type":"quantitative","axis":{"orient":"right","title":null,"labels":false,"values":[0.62,0.64,0.66,0.68,0.7,0.72,0.74,0.76,0.78,0.8,0.82,0.84,0.86,0.88,0.9,0.92,0.94,0.96,0.98,1,1.02,1.04,1.06,1.08,1.1,1.12,1.14,1.16,1.18,1.2,1.22,1.24,1.26,1.28,1.3],"tickSize":{"condition":{"test":"abs(datum.value*10 - round(datum.value*10)) < 0.001","value":-4},"value":-2}}},
     "fill":{"field":"z","type":"nominal","scale":{"domain":["0.001","0.004","0.008","0.02","0.04"],"range":["#000000","#0000ff","#11ee11","#ffa500","#ff0000"]},"legend":null}}}
  ],
  "resolve":{"axis":{"x":"independent","y":"independent"}}},
 {"width":102,"height":104,
  "title":{"text":"[SIII] λ 9069"},
  "transform":[{"filter":"datum.p == 'SIII'"}],
  "layer":[
   {"mark":{"type":"line","strokeWidth":1,"clip":true},
    "encoding":{
     "x":{"field":"a","type":"quantitative","scale":{"domain":[0,10],"nice":false},"axis":{"orient":"bottom","title":"Age (Ma)","values":[0,0.5,1,1.5,2,2.5,3,3.5,4,4.5,5,5.5,6,6.5,7,7.5,8,8.5,9,9.5,10],"labelExpr":"datum.value % 2 == 0 ? datum.label : ''","format":"d","tickSize":{"condition":{"test":"datum.value % 2 == 0","value":-4},"value":-2},"labelPadding":7,"titlePadding":1}},
     "y":{"field":"v","type":"quantitative","scale":{"domain":[0.67,1.62],"nice":false,"zero":false},"axis":{"orient":"left","title":"Slope","values":[0.7,0.75,0.8,0.85,0.9,0.95,1,1.05,1.1,1.15,1.2,1.25,1.3,1.35,1.4,1.45,1.5,1.55,1.6],"labelExpr":"abs(datum.value*5 - round(datum.value*5)) < 0.001 ? format(datum.value, '.1f') : ''","tickSize":{"condition":{"test":"abs(datum.value*5 - round(datum.value*5)) < 0.001","value":-4},"value":-2},"labelPadding":6,"titlePadding":2}},
     "color":{"field":"z","type":"nominal","scale":{"domain":["0.001","0.004","0.008","0.02","0.04"],"range":["#000000","#0000ff","#11ee11","#ffa500","#ff0000"]},"legend":{"labelExpr":"'Z=' + datum.label"}},
     "strokeDash":{"field":"k","type":"nominal","scale":{"domain":["s","d"],"range":[[1,0],[1,1.5]]},"legend":null},
     "detail":{"field":"g"}}},
   {"transform":[{"filter":"datum.a == floor(datum.a)"}],
    "mark":{"type":"point","shape":"square","filled":true,"size":6,"opacity":1},
    "encoding":{
     "x":{"field":"a","type":"quantitative","axis":{"orient":"top","title":null,"labels":false,"values":[0,0.5,1,1.5,2,2.5,3,3.5,4,4.5,5,5.5,6,6.5,7,7.5,8,8.5,9,9.5,10],"tickSize":{"condition":{"test":"datum.value % 2 == 0","value":-4},"value":-2}}},
     "y":{"field":"v","type":"quantitative","axis":{"orient":"right","title":null,"labels":false,"values":[0.7,0.75,0.8,0.85,0.9,0.95,1,1.05,1.1,1.15,1.2,1.25,1.3,1.35,1.4,1.45,1.5,1.55,1.6],"tickSize":{"condition":{"test":"abs(datum.value*5 - round(datum.value*5)) < 0.001","value":-4},"value":-2}}},
     "fill":{"field":"z","type":"nominal","scale":{"domain":["0.001","0.004","0.008","0.02","0.04"],"range":["#000000","#0000ff","#11ee11","#ffa500","#ff0000"]},"legend":null}}}
  ],
  "resolve":{"axis":{"x":"independent","y":"independent"}}}
]}
]
}
